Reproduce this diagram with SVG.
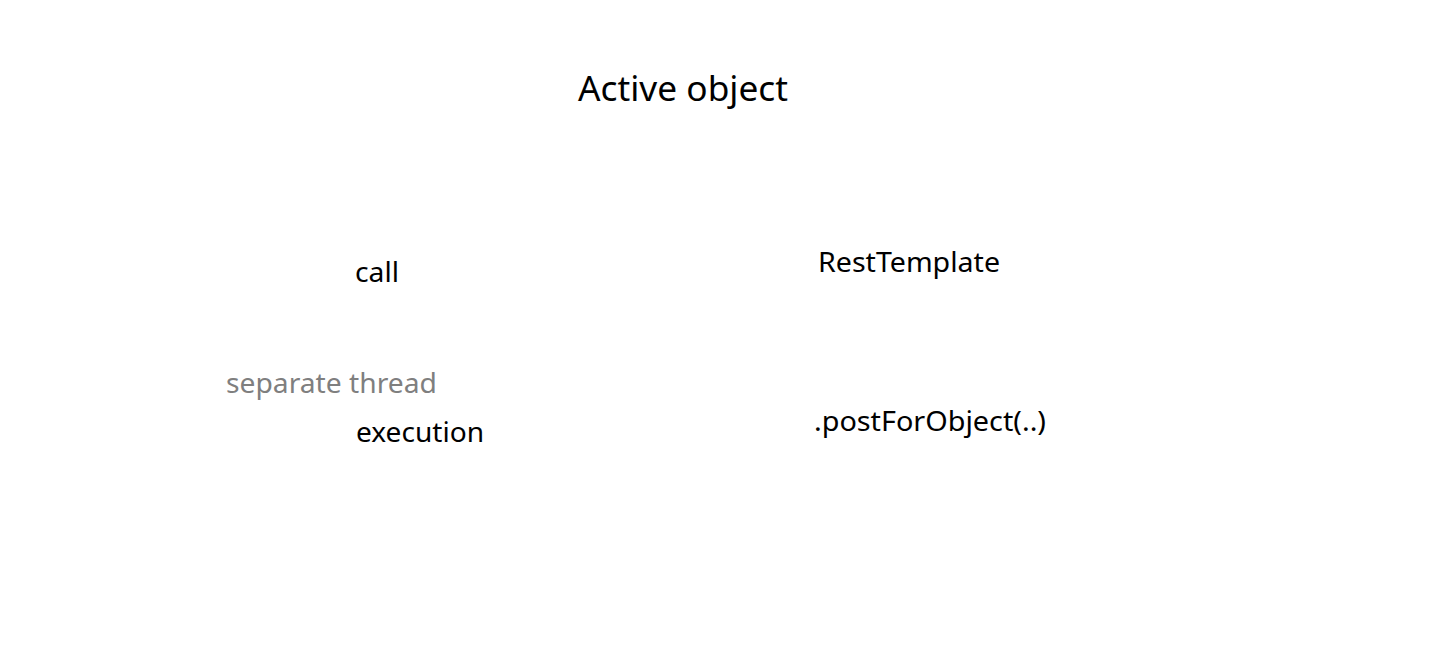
<svg xmlns="http://www.w3.org/2000/svg" width="1436" height="666" viewBox="0 0 1436 666">
<style>
text{font-family:"Noto Sans","Open Sans","DejaVu Sans",sans-serif;fill:#000;}
.t{font-size:35px;}
.l{font-size:27px;}
.g{fill:#7f7f7f;}
</style>
<rect width="1436" height="666" fill="#fff"/>
<g id="title"><text class="t" x="578" y="101" textLength="210" lengthAdjust="spacingAndGlyphs">Active object</text></g>
<g id="call"><text class="l" x="355" y="282" textLength="44" lengthAdjust="spacingAndGlyphs">call</text></g>
<g id="separate-thread"><text class="l g" x="226" y="393" textLength="211" lengthAdjust="spacingAndGlyphs">separate thread</text></g>
<g id="execution"><text class="l" x="356" y="442" textLength="128" lengthAdjust="spacingAndGlyphs">execution</text></g>
<g id="resttemplate"><text class="l" x="818" y="272" textLength="182" lengthAdjust="spacingAndGlyphs">RestTemplate</text></g>
<g id="postforobject"><text class="l" x="814" y="431" textLength="232" lengthAdjust="spacingAndGlyphs">.postForObject(..)</text></g>
<g id="connectors"></g>
</svg>
